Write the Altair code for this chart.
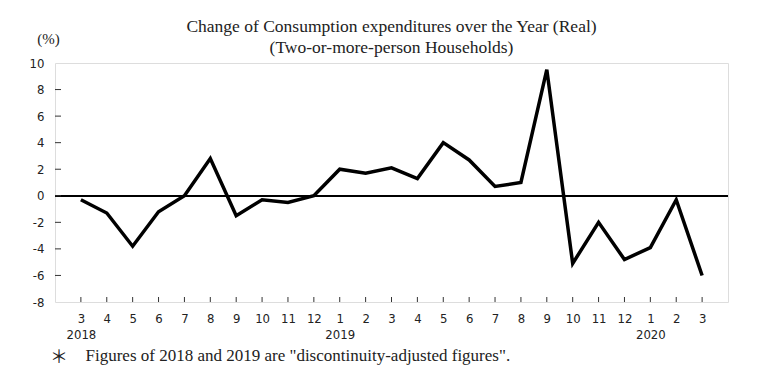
import altair as alt
import pandas as pd
import json

# Data (year-over-year change, %, real), Mar 2018 - Mar 2020
months = ["3", "4", "5", "6", "7", "8", "9", "10", "11", "12",
          "1", "2", "3", "4", "5", "6", "7", "8", "9", "10", "11", "12",
          "1", "2", "3"]
years = ["2018", "", "", "", "", "", "", "", "", "",
         "2019", "", "", "", "", "", "", "", "", "", "", "",
         "2020", "", ""]
values = [-0.3, -1.3, -3.8, -1.2, 0.0, 2.8, -1.5, -0.3, -0.5, 0.0,
          2.0, 1.7, 2.1, 1.3, 4.0, 2.7, 0.7, 1.0, 9.5, -5.1, -2.0, -4.8,
          -3.9, -0.3, -6.0]
y_ticks = [-8, -6, -4, -2, 0, 2, 4, 6, 8, 10]

title_lines = ["Change of Consumption  expenditures over the Year (Real)",
               "(Two-or-more-person Households)"]
footnote = "Figures of 2018 and 2019 are \"discontinuity-adjusted figures\"."
footmark = ["\uff0a"]

idx = list(range(len(values)))
df = pd.DataFrame({"i": idx, "v": values})
df_xt = pd.DataFrame({"i": idx})
df_yt = pd.DataFrame({"t": [t for t in y_ticks if -8 < t < 10]})
df_fm = pd.DataFrame({"s": footmark})

W, H = 673, 239
SERIF = "Liberation Serif"
LAB = "DejaVu Sans Condensed"

M = json.dumps(months)
Y = json.dumps(years)
label_expr = (f"{Y}[datum.value] == '' ? {M}[datum.value] : "
              f"[{M}[datum.value], '\u2007\u2007' + {Y}[datum.value]]")

xscale = alt.Scale(domain=[-1, 25], nice=False, zero=False)
yscale = alt.Scale(domain=[-8, 10], nice=False, zero=False)

line = alt.Chart(df).mark_line(color="black", strokeWidth=3.5, strokeJoin="miter").encode(
    x=alt.X("i:Q", scale=xscale,
            axis=alt.Axis(values=idx, tickCount=100, labelExpr=label_expr, ticks=False,
                          domain=False, grid=False, labelFont=LAB, labelFontSize=13,
                          labelColor="#222", labelPadding=10, labelLineHeight=16,
                          labelFlush=False, labelOverlap=False,
                          title=footnote, titleFont=SERIF, titleFontSize=17,
                          titleFontWeight="normal", titleColor="#222",
                          titleAnchor="start", titleAlign="left", titleBaseline="alphabetic",
                          titleX=30, titleY=58)),
    y=alt.Y("v:Q", scale=yscale,
            axis=alt.Axis(values=y_ticks, tickCount=100, labelExpr="'' + datum.value",
                          ticks=False, domain=False, grid=False, labelFont=LAB,
                          labelFontSize=13, labelColor="#222", labelPadding=11,
                          labelFlush=False, labelOverlap=False,
                          title="(%)", titleFont=SERIF, titleFontSize=15,
                          titleFontWeight="normal", titleColor="#222", titleAngle=0,
                          titleAlign="center", titleBaseline="middle",
                          titleX=-7, titleY=-25)),
)

zero = alt.Chart(df).mark_rule(color="black", strokeWidth=1).encode(
    y=alt.datum(0, scale=yscale)
)

xt = alt.Chart(df_xt).mark_rule(color="#333", strokeWidth=1).encode(
    x=alt.X("i:Q", scale=xscale),
    y=alt.value(H),
    y2=alt.value(H - 5),
)

yt = alt.Chart(df_yt).mark_rule(color="#333", strokeWidth=1).encode(
    y=alt.Y("t:Q", scale=yscale),
    x=alt.value(0),
    x2=alt.value(6),
)

fm = alt.Chart(df_fm).mark_text(font="Noto Sans CJK JP", fontSize=18, color="#222",
                                align="center", baseline="alphabetic").encode(
    text="s:N",
    x=alt.value(4),
    y=alt.value(H + 61),
)

chart = alt.layer(line, zero, xt, yt, fm).properties(
    width=W, height=H,
    padding={"left": 47, "top": 55, "right": 24, "bottom": 70},
    autosize=alt.AutoSizeParams(type="none"),
    title=alt.TitleParams(text=title_lines, font=SERIF, fontSize=17.5,
                          fontWeight="normal", color="#222", anchor="middle",
                          lineHeight=21, offset=-25),
).configure_view(stroke="#333", strokeWidth=1.5).configure_axis(
    labelOverlap=False
).configure(background="white")

chart.save("out.html", embed_options={"renderer": "svg", "actions": False})
